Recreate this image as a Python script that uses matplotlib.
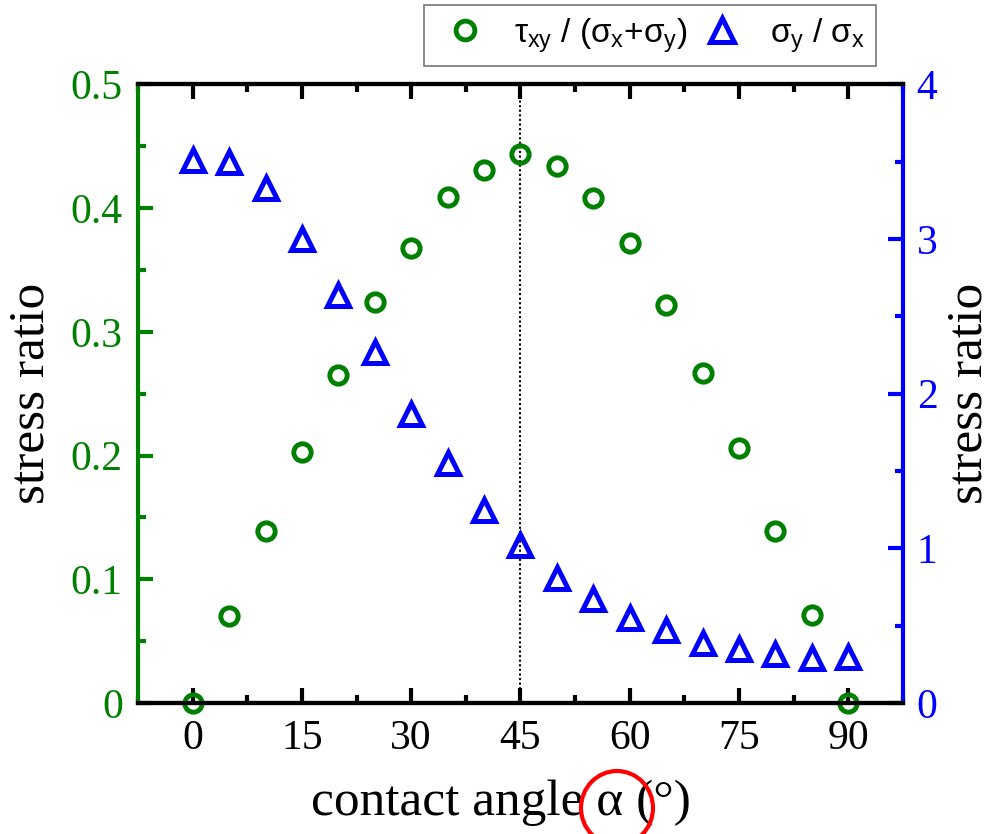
import matplotlib
matplotlib.use("Agg")
import matplotlib.pyplot as plt
from matplotlib.patches import Ellipse
from matplotlib.ticker import MultipleLocator, FuncFormatter

plt.rcParams["mathtext.fontset"] = "custom"
plt.rcParams["mathtext.rm"] = "Liberation Sans"
plt.rcParams["mathtext.it"] = "Liberation Sans"
plt.rcParams["mathtext.bf"] = "Liberation Sans:bold"

angles = [0, 5, 10, 15, 20, 25, 30, 35, 40, 45, 50, 55, 60, 65, 70, 75, 80, 85, 90]
shear_ratio = [0.0, 0.070, 0.139, 0.203, 0.265, 0.324, 0.368, 0.409, 0.431, 0.444,
               0.434, 0.408, 0.372, 0.322, 0.267, 0.206, 0.139, 0.071, 0.0]
normal_ratio = [3.51, 3.50, 3.33, 3.00, 2.64, 2.27, 1.87, 1.55, 1.25, 1.02,
                0.81, 0.67, 0.55, 0.47, 0.39, 0.35, 0.32, 0.29, 0.30]
x_ticks = [0, 15, 30, 45, 60, 75, 90]

GREEN = "#008000"
BLUE = "#0000ff"
serif = ["Liberation Serif", "DejaVu Serif"]
sans = ["Liberation Sans", "DejaVu Sans"]


def plain_number(v, pos):
    return f"{v:g}"


fig = plt.figure(figsize=(9.97, 8.34), dpi=100)
ax = fig.add_axes([0.1385, 0.157, 0.767, 0.742])
ax2 = ax.twinx()

ax.plot(angles, shear_ratio, "o", ms=12.5, mfc="none", mec=GREEN, mew=3.5,
        clip_on=False, zorder=5, label=r"$\tau_{xy}$ / ($\sigma_{x}$+$\sigma_{y}$)")
ax2.plot(angles, normal_ratio, "^", ms=15.5, mfc="none", mec=BLUE, mew=3.6,
         clip_on=False, zorder=5, label=r"$\sigma_{y}$ / $\sigma_{x}$")
ax.axvline(45, color="black", ls=(0, (1, 1.2)), lw=1.5, zorder=1)

ax.set_xlim(-7.5, 97.5)
ax.set_ylim(0, 0.5)
ax2.set_ylim(0, 4)

ax.set_xticks(x_ticks)
ax.xaxis.set_minor_locator(MultipleLocator(7.5))
ax.yaxis.set_major_locator(MultipleLocator(0.1))
ax.yaxis.set_minor_locator(MultipleLocator(0.05))
ax2.yaxis.set_major_locator(MultipleLocator(1))
ax2.yaxis.set_minor_locator(MultipleLocator(0.5))
ax.yaxis.set_major_formatter(FuncFormatter(plain_number))
ax2.yaxis.set_major_formatter(FuncFormatter(plain_number))

for a in (ax, ax2):
    for s in a.spines.values():
        s.set_linewidth(3)
ax.spines["left"].set_color(GREEN)
ax2.spines["left"].set_visible(False)
ax2.spines["right"].set_color(BLUE)
ax.spines["right"].set_visible(False)
ax2.spines["top"].set_color("black")
ax2.spines["bottom"].set_color("black")

ax.tick_params(axis="x", which="both", direction="in", top=True, width=3,
               colors="black", labelsize=30, pad=12)
ax.tick_params(axis="x", which="major", length=11)
ax.tick_params(axis="x", which="minor", length=6)
ax.tick_params(axis="y", which="both", direction="in", width=3, color=GREEN,
               labelcolor=GREEN, labelsize=30, pad=11)
ax.tick_params(axis="y", which="major", length=11)
ax.tick_params(axis="y", which="minor", length=6)
ax2.tick_params(axis="y", which="both", direction="in", width=3, color=BLUE,
                labelcolor=BLUE, labelsize=30, pad=10)
ax2.tick_params(axis="y", which="major", length=11)
ax2.tick_params(axis="y", which="minor", length=6)

for lbl in ax.get_xticklabels() + ax.get_yticklabels() + ax2.get_yticklabels():
    lbl.set_family(serif)

ax.set_xlabel("contact angle α (°)", fontsize=37, family=serif, labelpad=15)
ax.xaxis.label.set_x((501 - 138) / 765)
ax.set_ylabel("stress ratio", fontsize=37, family=serif, labelpad=12)
ax2.set_ylabel("stress ratio", fontsize=37, family=serif, labelpad=6)

h1, l1 = ax.get_legend_handles_labels()
h2, l2 = ax2.get_legend_handles_labels()
leg = fig.legend(h1 + h2, l1 + l2, loc="upper right", bbox_to_anchor=(0.879, 0.994),
                 borderaxespad=0, ncol=2, frameon=True, fancybox=False,
                 edgecolor="#555555", prop={"family": sans, "size": 24},
                 handlelength=1.8, handletextpad=0.55, columnspacing=0.15,
                 borderpad=0.33, markerscale=1.08)
leg.get_frame().set_linewidth(1.2)

# red highlight round the angle symbol
fig.patches.append(Ellipse((617 / 997, 1 - 808 / 834), 72 / 997, 74 / 834,
                           transform=fig.transFigure, fill=False,
                           edgecolor="red", lw=3))

fig.savefig("out.png", dpi=100)
